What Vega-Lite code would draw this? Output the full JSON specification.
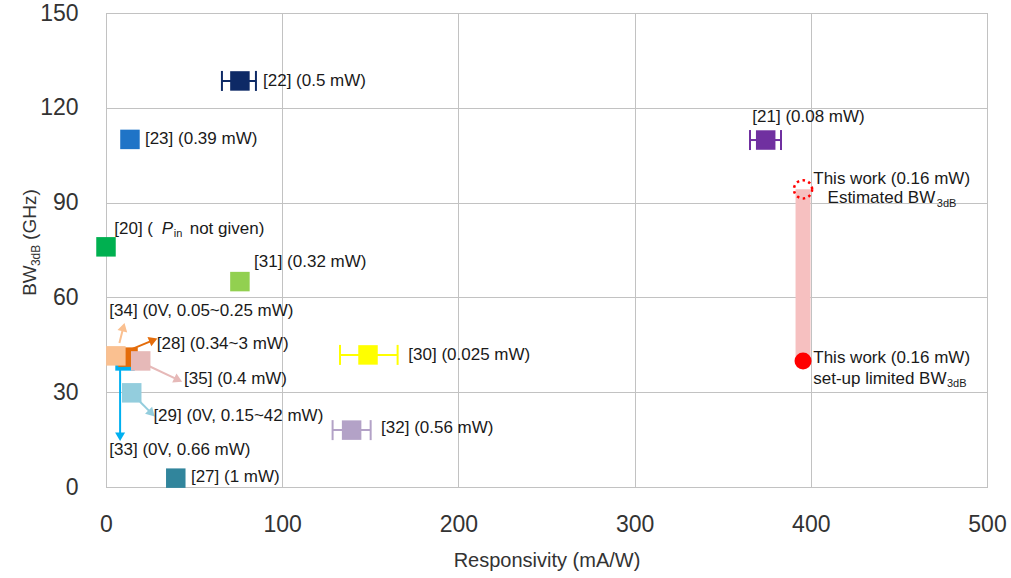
{
  "$schema": "https://vega.github.io/schema/vega-lite/v6.json",
  "width": 881,
  "height": 474,
  "autosize": "none",
  "padding": {"left": 106, "top": 13, "right": 24, "bottom": 91},
  "background": "white",
  "config": {
    "font": "Liberation Sans",
    "view": {"stroke": "#a8a8a8", "strokeWidth": 1},
    "axis": {
      "domain": false,
      "ticks": false,
      "tickSize": 0,
      "grid": true,
      "gridColor": "#c2c2c2",
      "gridWidth": 1,
      "labelFlush": false,
      "labelFont": "Liberation Sans",
      "labelFontSize": 23,
      "labelColor": "#333333",
      "titleFont": "Liberation Sans",
      "titleFontSize": 20,
      "titleFontWeight": "normal",
      "titleColor": "#333333"
    }
  },
  "datasets": {
    "pts": [
      {"name": "[22]", "x": 76, "y": 128.5},
      {"name": "[23]", "x": 13.6, "y": 110},
      {"name": "[20]", "x": 0, "y": 76},
      {"name": "[31]", "x": 76, "y": 65},
      {"name": "[21]", "x": 374.4, "y": 109.8},
      {"name": "[30]", "x": 148.7, "y": 41.8},
      {"name": "[32]", "x": 139.4, "y": 18},
      {"name": "[27]", "x": 39.6, "y": 2.8},
      {"name": "[29]", "x": 14.6, "y": 29.8},
      {"name": "[33]", "x": 10.8, "y": 39.9},
      {"name": "[28]", "x": 12.5, "y": 41.1},
      {"name": "[34]", "x": 5.6, "y": 41.5},
      {"name": "[35]", "x": 19.7, "y": 39.9}
    ],
    "err": [
      {"name": "[22]", "x": 65.8, "x2": 85.1, "y": 128.5},
      {"name": "[21]", "x": 365.5, "x2": 383.1, "y": 109.8},
      {"name": "[30]", "x": 132.8, "x2": 165.5, "y": 41.8},
      {"name": "[32]", "x": 128.6, "x2": 150.2, "y": 18}
    ],
    "arrows": [
      {"name": "[34]", "x": 7.6, "y": 45.6, "x2": 9.9, "y2": 50.6},
      {"name": "[28]", "x": 13.6, "y": 43.4, "x2": 26.9, "y2": 46.5},
      {"name": "[35]", "x": 23.1, "y": 38.6, "x2": 41.0, "y2": 33.9},
      {"name": "[29]", "x": 19.3, "y": 27.0, "x2": 25.9, "y2": 23.3},
      {"name": "[33]", "x": 8.0, "y": 38.0, "x2": 8.0, "y2": 15.9}
    ],
    "band": [{"name": "tw", "x": 395.6, "y": 40, "y2": 94.2}],
    "twfilled": [{"name": "tw", "x": 395.6, "y": 39.9}],
    "twest": [{"name": "tw", "x": 395.6, "y": 94.2}],
    "labels": [
      {"label": "[22] (0.5 mW)", "x": 89.1, "y": 128.5},
      {"label": "[23] (0.39 mW)", "x": 22.1, "y": 110},
      {"label": "[20] (", "x": 4.7, "y": 81.8},
      {"label": "not given)", "x": 47.5, "y": 81.8},
      {"label": "[31] (0.32 mW)", "x": 84, "y": 71.3},
      {"label": "[34] (0V, 0.05~0.25 mW)", "x": 1.9, "y": 55.8},
      {"label": "[28] (0.34~3 mW)", "x": 28.8, "y": 45.4},
      {"label": "[35] (0.4 mW)", "x": 44.3, "y": 34.2},
      {"label": "[29] (0V, 0.15~42 mW)", "x": 26.9, "y": 22.5},
      {"label": "[33] (0V, 0.66 mW)", "x": 1.9, "y": 11.7},
      {"label": "[27] (1 mW)", "x": 48.2, "y": 3.3},
      {"label": "[21] (0.08 mW)", "x": 366.8, "y": 117.1},
      {"label": "This work (0.16 mW)", "x": 401.4, "y": 97.6},
      {"label": "Estimated BW", "x": 409.5, "y": 91.3},
      {"label": "This work (0.16 mW)", "x": 401.4, "y": 40.7},
      {"label": "set-up limited BW", "x": 401.4, "y": 34.1},
      {"label": "[30] (0.025 mW)", "x": 171.6, "y": 41.8},
      {"label": "[32] (0.56 mW)", "x": 156.1, "y": 18.6}
    ],
    "subs": [
      {"label": "in", "x": 38.5, "y": 80.2},
      {"label": "3dB", "x": 471.5, "y": 89.6},
      {"label": "3dB", "x": 477.3, "y": 32.5}
    ],
    "italic": [{"label": "P", "x": 31.6, "y": 81.8}],
    "ytitle": [
      {"label": "BW", "x": -39.5, "y": 60.5},
      {"label": "(GHz)", "x": -39.5, "y": 78.2}
    ],
    "ytitlesub": [{"label": "3dB", "x": -37.6, "y": 69.9}]
  },
  "encoding": {
    "x": {
      "field": "x",
      "type": "quantitative",
      "scale": {"domain": [0, 500], "nice": false, "zero": false},
      "axis": {
        "title": "Responsivity (mA/W)",
        "values": [0, 100, 200, 300, 400, 500],
        "labelPadding": 26,
        "titlePadding": 14
      }
    },
    "y": {
      "field": "y",
      "type": "quantitative",
      "scale": {"domain": [0, 150], "nice": false, "zero": false},
      "axis": {
        "title": null,
        "values": [0, 30, 60, 90, 120, 150],
        "labelPadding": 28
      }
    },
    "color": {
      "field": "name",
      "type": "nominal",
      "legend": null,
      "scale": {
        "domain": ["[22]", "[23]", "[20]", "[31]", "[21]", "[30]", "[32]", "[27]", "[34]", "[28]", "[35]", "[29]", "[33]", "tw"],
        "range": ["#0e2a66", "#1f74c7", "#00b050", "#92d050", "#7030a0", "#ffff00", "#b3a2c7", "#31859c", "#fac090", "#e46c0a", "#e6b9b8", "#93cddd", "#00b0f0", "#ff0000"]
      }
    }
  },
  "layer": [
    {
      "data": {"name": "band"},
      "mark": {"type": "rule", "strokeWidth": 15},
      "encoding": {"y2": {"field": "y2"}, "color": {"value": "#f6c0c0"}}
    },
    {
      "data": {"name": "err"},
      "mark": {"type": "rule", "strokeWidth": 2},
      "encoding": {"x2": {"field": "x2"}}
    },
    {
      "data": {"name": "err"},
      "transform": [{"fold": ["x", "x2"], "as": ["k", "xc"]}],
      "mark": {"type": "point", "shape": "M0,-1L0,1", "filled": false, "strokeWidth": 2, "size": 400, "opacity": 1},
      "encoding": {"x": {"field": "xc", "type": "quantitative"}}
    },
    {
      "data": {"name": "arrows"},
      "mark": {"type": "rule", "strokeWidth": 2},
      "encoding": {"x2": {"field": "x2"}, "y2": {"field": "y2"}}
    },
    {
      "data": {"name": "arrows"},
      "transform": [{"calculate": "atan2((datum.x2 - datum.x) * 1.762, (datum.y2 - datum.y) * 3.16) * 180 / PI", "as": "ang"}],
      "mark": {"type": "point", "shape": "triangle-up", "filled": true, "size": 100, "opacity": 1},
      "encoding": {
        "x": {"field": "x2", "type": "quantitative"},
        "y": {"field": "y2", "type": "quantitative"},
        "angle": {"field": "ang", "type": "quantitative", "scale": null}
      }
    },
    {
      "data": {"name": "pts"},
      "mark": {"type": "point", "shape": "square", "filled": true, "size": 380, "opacity": 1}
    },
    {
      "data": {"name": "twfilled"},
      "mark": {"type": "point", "shape": "circle", "filled": true, "size": 290, "opacity": 1}
    },
    {
      "data": {"name": "twest"},
      "mark": {"type": "point", "shape": "circle", "filled": false, "size": 330, "strokeWidth": 2.5, "strokeDash": [2.5, 3.5], "opacity": 1}
    },
    {
      "data": {"name": "labels"},
      "mark": {"type": "text", "align": "left", "baseline": "middle", "fontSize": 17},
      "encoding": {"text": {"field": "label"}, "color": {"value": "#1a1a1a"}}
    },
    {
      "data": {"name": "subs"},
      "mark": {"type": "text", "align": "left", "baseline": "middle", "fontSize": 11},
      "encoding": {"text": {"field": "label"}, "color": {"value": "#1a1a1a"}}
    },
    {
      "data": {"name": "italic"},
      "mark": {"type": "text", "align": "left", "baseline": "middle", "fontSize": 17, "fontStyle": "italic"},
      "encoding": {"text": {"field": "label"}, "color": {"value": "#1a1a1a"}}
    },
    {
      "data": {"name": "ytitle"},
      "mark": {"type": "text", "align": "left", "baseline": "alphabetic", "fontSize": 19, "angle": 270},
      "encoding": {"text": {"field": "label"}, "color": {"value": "#333333"}}
    },
    {
      "data": {"name": "ytitlesub"},
      "mark": {"type": "text", "align": "left", "baseline": "alphabetic", "fontSize": 12, "angle": 270},
      "encoding": {"text": {"field": "label"}, "color": {"value": "#333333"}}
    }
  ]
}
